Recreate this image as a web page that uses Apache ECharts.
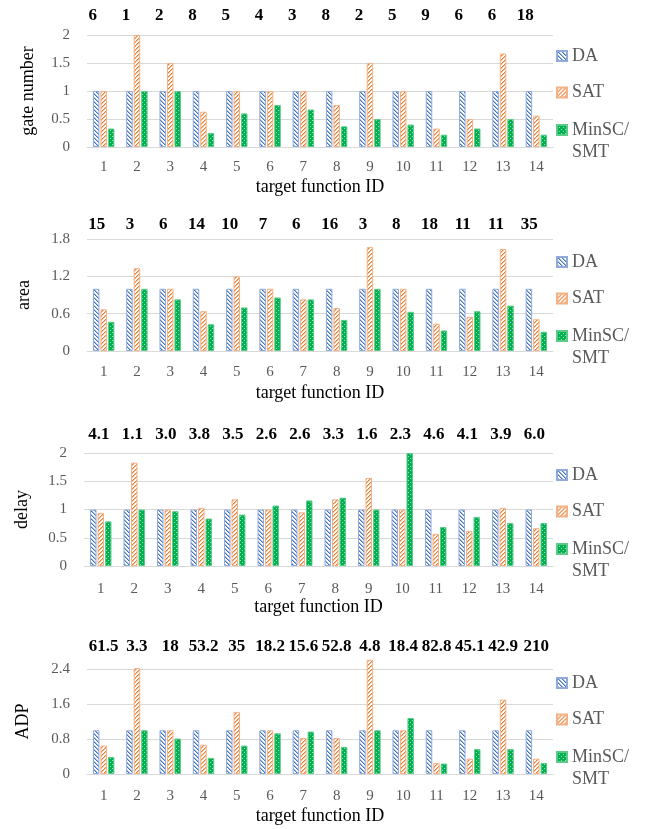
<!DOCTYPE html>
<html>
<head>
<meta charset="utf-8">
<script src="https://cdn.jsdelivr.net/npm/echarts@6/dist/echarts.min.js"></script>
<style>
html,body{margin:0;padding:0;background:#fff;}
#chart{width:650px;height:829px;}
</style>
</head>
<body>
<div id="chart"></div>
<script>
// ---- data ----
const categories = ['1','2','3','4','5','6','7','8','9','10','11','12','13','14'];
const seriesNames = ['DA','SAT','MinSC/\nSMT'];

const gateTop  = ['6','1','2','8','5','4','3','8','2','5','9','6','6','18'];
const areaTop  = ['15','3','6','14','10','7','6','16','3','8','18','11','11','35'];
const delayTop = ['4.1','1.1','3.0','3.8','3.5','2.6','2.6','3.3','1.6','2.3','4.6','4.1','3.9','6.0'];
const adpTop   = ['61.5','3.3','18','53.2','35','18.2','15.6','52.8','4.8','18.4','82.8','45.1','42.9','210'];

const gateDA  = [1,1,1,1,1,1,1,1,1,1,1,1,1,1];
const gateSAT = [1,2,1.5,0.63,1,1,1,0.75,1.5,1,0.33,0.5,1.67,0.56];
const gateMin = [0.33,1,1,0.25,0.6,0.75,0.67,0.37,0.5,0.4,0.22,0.33,0.5,0.22];

const areaDA  = [1,1,1,1,1,1,1,1,1,1,1,1,1,1];
const areaSAT = [0.67,1.33,1,0.64,1.2,1,0.83,0.69,1.67,1,0.44,0.55,1.64,0.51];
const areaMin = [0.47,1,0.83,0.43,0.7,0.86,0.83,0.5,1,0.63,0.33,0.64,0.73,0.31];

const delayDA  = [1,1,1,1,1,1,1,1,1,1,1,1,1,1];
const delaySAT = [0.94,1.83,1.0,1.03,1.18,1.0,0.95,1.18,1.56,1.0,0.57,0.62,1.03,0.67];
const delayMin = [0.79,1.0,0.97,0.84,0.91,1.07,1.16,1.21,1.0,2.0,0.69,0.87,0.76,0.76];

const adpDA  = [1,1,1,1,1,1,1,1,1,1,1,1,1,1];
const adpSAT = [0.65,2.42,1,0.67,1.42,1,0.82,0.82,2.61,1,0.25,0.35,1.7,0.35];
const adpMin = [0.39,1,0.81,0.37,0.65,0.93,0.97,0.62,1,1.28,0.24,0.57,0.57,0.25];

const yNames = ['gate number','area','delay','ADP'];
const yMax = [2, 1.8, 2, 2.4];
const yInterval = [0.5, 0.6, 0.5, 0.8];
const yTicks = [['0','0.5','1','1.5','2'],['0','0.6','1.2','1.8'],['0','0.5','1','1.5','2'],['0','0.8','1.6','2.4']];

// ---- styling / layout ----
const FONT = 'Liberation Serif';
const panels = [
  {top:35,  height:112, left:87, topLabels:gateTop,  data:[gateDA,gateSAT,gateMin],   topMargin:11, topShift:22, xMargin:13, nameGapX:31, nameGapY:50, legendTop:56},
  {top:239, height:112, left:87, topLabels:areaTop,  data:[areaDA,areaSAT,areaMin],   topMargin:6,  topShift:14, xMargin:14, nameGapX:33, nameGapY:54, legendTop:262},
  {top:453, height:113, left:84, topLabels:delayTop, data:[delayDA,delaySAT,delayMin],topMargin:10, topShift:4,  xMargin:16, nameGapX:32, nameGapY:53, legendTop:475},
  {top:669, height:105, left:87, topLabels:adpTop,   data:[adpDA,adpSAT,adpMin],      topMargin:14, topShift:0,  xMargin:15, nameGapX:33, nameGapY:55, legendTop:683}
];

function tile(draw){
  const c = document.createElement('canvas');
  c.width = 4; c.height = 4;
  const g = c.getContext('2d');
  draw(g);
  return c;
}
const daTile = tile(g=>{
  g.fillStyle='#ffffff'; g.fillRect(0,0,4,4);
  for(let x=0;x<4;x++)for(let y=0;y<4;y++){
    const m=((x-y)%4+4)%4;
    if(m===0){ g.fillStyle='#4472C4'; g.fillRect(x,y,1,1); }
    else if(m===1){ g.fillStyle='rgba(68,114,196,0.5)'; g.fillRect(x,y,1,1); }
  }
});
const satTile = tile(g=>{
  g.fillStyle='#ffffff'; g.fillRect(0,0,4,4);
  for(let x=0;x<4;x++)for(let y=0;y<4;y++){
    const m=(x+y)%4;
    if(m===0){ g.fillStyle='#ED7D31'; g.fillRect(x,y,1,1); }
    else if(m===1){ g.fillStyle='rgba(237,125,49,0.5)'; g.fillRect(x,y,1,1); }
  }
});
const minTile = tile(g=>{
  g.fillStyle='#00B050'; g.fillRect(0,0,4,4);
  g.fillStyle='rgba(255,255,255,0.6)';
  g.fillRect(0,0,1,1); g.fillRect(2,2,1,1);
});
const styles = [
  {color:{image:daTile,repeat:'repeat'},  borderColor:'#8FAADC', borderWidth:1},
  {color:{image:satTile,repeat:'repeat'}, borderColor:'#F4B183', borderWidth:1},
  {color:{image:minTile,repeat:'repeat'}, borderColor:'#5CCB8A', borderWidth:1}
];

const grid=[], xAxis=[], yAxis=[], series=[], legend=[];
panels.forEach((p,i)=>{
  grid.push({left:p.left, right:97, top:p.top, height:p.height});
  xAxis.push({
    type:'category', gridIndex:i, data:categories, position:'bottom',
    axisLine:{show:true, lineStyle:{color:'#d9d9d9', width:1}},
    axisTick:{show:false},
    axisLabel:{interval:0, margin:p.xMargin, color:'#595959', fontFamily:FONT, fontSize:15},
    name:'target function ID', nameLocation:'middle', nameGap:p.nameGapX,
    nameTextStyle:{color:'#000', fontFamily:FONT, fontSize:18}
  });
  xAxis.push({
    type:'category', gridIndex:i, data:p.topLabels, position:'top',
    axisLine:{show:false}, axisTick:{show:false},
    axisLabel:{interval:0, margin:p.topMargin, color:'#000', fontFamily:FONT, fontSize:17, fontWeight:'bold',
      padding:[0,p.topShift,0,0]}
  });
  yAxis.push({
    type:'value', gridIndex:i, min:0, max:yMax[i], interval:yInterval[i],
    axisLine:{show:false}, axisTick:{show:false},
    splitLine:{lineStyle:{color:'#d9d9d9', width:1}},
    axisLabel:{margin:17, color:'#595959', fontFamily:FONT, fontSize:15,
      formatter:(v)=>{ const idx=Math.round(v/yInterval[i]); return yTicks[i][idx]!==undefined?yTicks[i][idx]:''; }},
    name:yNames[i], nameLocation:'middle', nameGap:p.nameGapY,
    nameTextStyle:{color:'#000', fontFamily:FONT, fontSize:18}
  });
  seriesNames.forEach((n,k)=>{
    series.push({
      type:'bar', name:n, xAxisIndex:i*2, yAxisIndex:i, data:p.data[k],
      barWidth:6.5, barGap:'15%', clip:false,
      itemStyle:styles[k]
    });
  });
  legend.push({
    orient:'vertical', left:556, top:p.legendTop-11, padding:0, itemGap:14.5,
    itemWidth:10, itemHeight:10, icon:'rect', selectedMode:false,
    data:['DA','SAT'],
    textStyle:{color:'#595959', fontFamily:FONT, fontSize:18, lineHeight:22}
  });
  legend.push({
    orient:'vertical', left:556, top:p.legendTop+74-33, padding:0,
    itemWidth:10, itemHeight:10, icon:'rect', selectedMode:false,
    data:['MinSC/\nSMT'],
    formatter:(name)=>'\n'+name,
    textStyle:{color:'#595959', fontFamily:FONT, fontSize:18, lineHeight:22}
  });
});

const chart = echarts.init(document.getElementById('chart'), null, {renderer:'canvas'});
chart.setOption({animation:false, backgroundColor:'#fff', grid, xAxis, yAxis, series, legend});
</script>
</body>
</html>
